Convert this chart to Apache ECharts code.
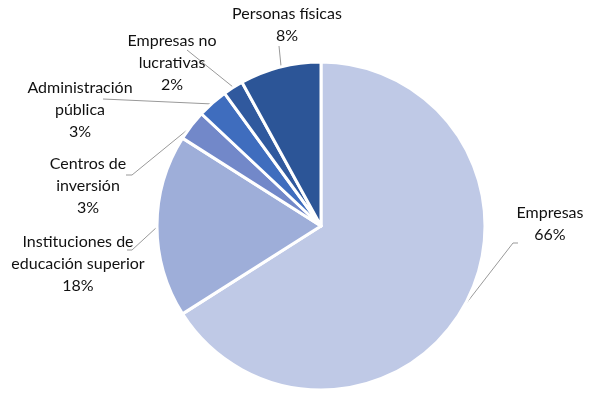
<!DOCTYPE html>
<html><head><meta charset="utf-8">
<script src="https://cdn.jsdelivr.net/npm/echarts@6/dist/echarts.min.js"></script>
<style>html,body{margin:0;padding:0;background:#fff}#c{width:595px;height:398px}</style>
</head><body><div id="c"></div>
<script>
const categories = ["Empresas", "Instituciones de\neducación superior", "Centros de\ninversión", "Administración\npública", "Empresas no\nlucrativas", "Personas físicas"];
const values = [66, 18, 3, 3, 2, 8];
const colors = ["#BFC9E6", "#9EAED9", "#7288C9", "#3F6DBE", "#30599E", "#2C5597"];
// label placement (style only)
const labelPos = [
  {x: 550, y: 224, line: [[465, 305], [513, 243], [518, 243]]},
  {x: 78, y: 264, line: [[157, 227], [132, 250], [127, 250]]},
  {x: 88, y: 186, line: [[192, 126], [132, 175], [126, 175]]},
  {x: 80, y: 110, line: [[213, 104], [103, 99]]},
  {x: 172, y: 63, line: [[233, 87], [187, 50]]},
  {x: 287, y: 25, line: [[281, 66], [279, 46]]}
];
const chart = echarts.init(document.getElementById('c'));
chart.setOption({
  animation: false,
  series: [{
    type: 'pie',
    center: [321, 226],
    radius: 164,
    startAngle: 90,
    clockwise: true,
    data: categories.map((n, i) => ({name: n, value: values[i], itemStyle: {color: colors[i]}})),
    itemStyle: {borderColor: '#fff', borderWidth: 3},
    label: {
      show: true,
      formatter: p => p.name + '\n' + p.value + '%',
      fontFamily: 'Lato',
      fontSize: 16,
      lineHeight: 22,
      color: '#111',
      align: 'center',
      overflow: 'none'
    },
    labelLine: {show: true, lineStyle: {color: '#999', width: 1}},
    labelLayout: function (params) {
      const p = labelPos[params.dataIndex];
      return {x: p.x, y: p.y, align: 'center', verticalAlign: 'middle', labelLinePoints: p.line};
    }
  }]
});
</script></body></html>
